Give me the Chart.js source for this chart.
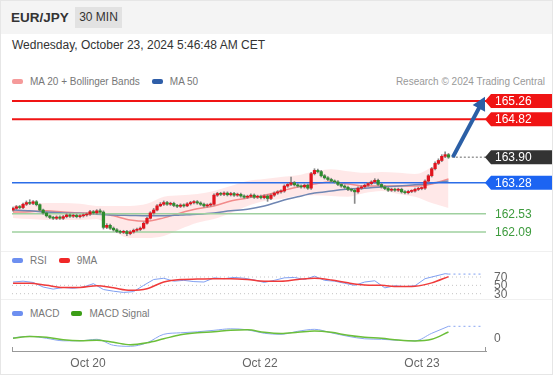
<!DOCTYPE html>
<html>
<head>
<meta charset="utf-8">
<script src="https://cdn.jsdelivr.net/npm/chart.js@4.4.1/dist/chart.umd.min.js"></script>
<style>
  body { margin: 0; background: #fff; font-family: "Liberation Sans", Arial, sans-serif; }
  #wrap { position: relative; width: 551px; height: 373px; border: 1px solid #e6e6e6; overflow: hidden; }
  #head { position: absolute; left: 0; top: 0; width: 551px; height: 33px; background: #f4f4f4; }
  #pair { position: absolute; left: 10px; top: 9px; font-size: 13.5px; font-weight: bold; color: #333; }
  #tf { position: absolute; left: 74px; top: 6px; width: 47px; height: 21px; line-height: 21px; text-align: center; background: #e2e2e2; font-size: 12px; color: #333; }
  #date { position: absolute; left: 11px; top: 37px; font-size: 12px; color: #333; }
  .leg { position: absolute; font-size: 10px; line-height: 12px; color: #777; white-space: nowrap; }
  .pill { display: inline-block; width: 11px; height: 5px; border-radius: 2px; vertical-align: middle; margin-right: 7px; position: relative; top: -1px; }
  .gap { display: inline-block; width: 12px; }
  .sep { position: absolute; left: 0; width: 551px; height: 1px; background: #f0f0f0; }
  canvas { position: absolute; left: 0; }
</style>
</head>
<body>
<div id="wrap">
  <div id="head"></div>
  <div id="pair">EUR/JPY</div>
  <div id="tf">30 MIN</div>
  <div id="date">Wednesday, October 23, 2024 5:46:48 AM CET</div>
  <div class="leg" style="left:11px;top:75px"><span class="pill" style="background:#f59a9a"></span>MA 20 + Bollinger Bands<span class="gap"></span><span class="pill" style="background:#2f5ea8"></span>MA 50</div>
  <div class="leg" style="right:7px;top:75px;color:#999">Research © 2024 Trading Central</div>
  <canvas id="main" width="553" height="165" style="top:85px"></canvas>
  <div class="sep" style="top:250px"></div>
  <div class="leg" style="left:11px;top:254px"><span class="pill" style="background:#6d8ff0"></span>RSI<span class="gap"></span><span class="pill" style="background:#f02828"></span>9MA</div>
  <canvas id="rsi" width="553" height="30" style="top:268px"></canvas>
  <div class="sep" style="top:298px"></div>
  <div class="leg" style="left:11px;top:307px"><span class="pill" style="background:#6d8ff0"></span>MACD<span class="gap"></span><span class="pill" style="background:#3c9e16"></span>MACD Signal</div>
  <canvas id="macd" width="553" height="58" style="top:316px"></canvas>
</div>
<script>
// 30 min candles, index 0 = first bar on the left
const opens = [
  162.62, 162.66, 162.70, 162.68, 162.76, 162.80, 162.78, 162.82, 162.75, 162.62,
  162.55, 162.48, 162.44, 162.42, 162.45, 162.42, 162.46, 162.50, 162.47, 162.49,
  162.46, 162.48, 162.50, 162.52, 162.58, 162.55, 162.60, 162.57, 162.20, 162.25,
  162.18, 162.14, 162.10, 162.08, 162.10, 162.05, 162.09, 162.13, 162.15, 162.18,
  162.30, 162.42, 162.55, 162.62, 162.72, 162.76, 162.80, 162.76, 162.78, 162.73,
  162.71, 162.74, 162.72, 162.77, 162.80, 162.82, 162.79, 162.76, 162.72, 162.74,
  162.76, 162.98, 163.02, 163.00, 163.03, 162.99, 163.02, 162.98, 163.00, 162.96,
  162.93, 162.95, 162.98, 162.93, 162.95, 162.92, 162.96, 162.90, 162.98, 163.03,
  163.06, 163.08, 163.20, 163.24, 163.28, 163.23, 163.20, 163.18, 163.22, 163.15,
  163.50, 163.58, 163.55, 163.45, 163.40, 163.36, 163.32, 163.30, 163.24, 163.20,
  163.17, 163.12, 163.10, 163.06, 163.15, 163.18, 163.22, 163.26, 163.30, 163.34,
  163.24, 163.18, 163.14, 163.10, 163.12, 163.10, 163.12, 163.06, 163.04, 163.07,
  163.08, 163.12, 163.14, 163.15, 163.32, 163.45, 163.62, 163.75, 163.82, 163.92,
  163.96
];
const highs = [
  162.69, 162.73, 162.73, 162.79, 162.84, 162.87, 162.85, 162.85, 162.77, 162.64,
  162.57, 162.50, 162.47, 162.48, 162.48, 162.49, 162.53, 162.53, 162.52, 162.52,
  162.51, 162.53, 162.55, 162.61, 162.61, 162.63, 162.64, 162.60, 162.29, 162.28,
  162.21, 162.17, 162.13, 162.13, 162.13, 162.12, 162.16, 162.18, 162.21, 162.33,
  162.45, 162.58, 162.66, 162.75, 162.80, 162.84, 162.83, 162.81, 162.81, 162.76,
  162.77, 162.77, 162.80, 162.83, 162.85, 162.85, 162.82, 162.79, 162.77, 162.79,
  163.01, 163.05, 163.05, 163.06, 163.06, 163.05, 163.05, 163.03, 163.03, 162.99,
  162.98, 163.01, 163.01, 162.98, 162.98, 162.99, 162.99, 163.01, 163.06, 163.09,
  163.11, 163.23, 163.27, 163.42, 163.31, 163.26, 163.23, 163.25, 163.25, 163.53,
  163.62, 163.61, 163.58, 163.48, 163.43, 163.39, 163.35, 163.33, 163.27, 163.23,
  163.20, 163.15, 163.13, 163.18, 163.21, 163.25, 163.29, 163.33, 163.38, 163.37,
  163.27, 163.21, 163.17, 163.15, 163.15, 163.15, 163.15, 163.09, 163.10, 163.11,
  163.15, 163.17, 163.18, 163.35, 163.48, 163.65, 163.79, 163.86, 163.96, 164.03,
  163.99
];
const lows = [
  162.59, 162.63, 162.65, 162.65, 162.73, 162.75, 162.75, 162.72, 162.59, 162.52,
  162.45, 162.41, 162.39, 162.39, 162.39, 162.39, 162.43, 162.44, 162.44, 162.43,
  162.43, 162.45, 162.47, 162.49, 162.52, 162.52, 162.54, 162.16, 162.17, 162.15,
  162.11, 162.07, 162.05, 162.05, 162.00, 162.02, 162.06, 162.10, 162.12, 162.16,
  162.28, 162.40, 162.52, 162.60, 162.70, 162.73, 162.73, 162.73, 162.70, 162.68,
  162.68, 162.69, 162.70, 162.74, 162.77, 162.76, 162.73, 162.69, 162.69, 162.71,
  162.74, 162.95, 162.97, 162.97, 162.96, 162.96, 162.95, 162.95, 162.93, 162.90,
  162.90, 162.92, 162.90, 162.90, 162.89, 162.89, 162.83, 162.87, 162.95, 163.00,
  163.03, 163.05, 163.17, 163.21, 163.20, 163.17, 163.15, 163.15, 163.12, 163.12,
  163.47, 163.52, 163.42, 163.37, 163.33, 163.29, 163.27, 163.21, 163.17, 163.14,
  163.09, 163.07, 162.78, 163.03, 163.12, 163.15, 163.19, 163.23, 163.27, 163.21,
  163.15, 163.11, 163.07, 163.07, 163.07, 163.07, 163.03, 163.01, 163.01, 163.04,
  163.05, 163.09, 163.11, 163.12, 163.29, 163.42, 163.59, 163.72, 163.79, 163.89,
  163.87
];
const closes = [
  162.66, 162.70, 162.68, 162.76, 162.80, 162.78, 162.82, 162.75, 162.62, 162.55,
  162.48, 162.44, 162.42, 162.45, 162.42, 162.46, 162.50, 162.47, 162.49, 162.46,
  162.48, 162.50, 162.52, 162.58, 162.55, 162.60, 162.57, 162.20, 162.25, 162.18,
  162.14, 162.10, 162.08, 162.10, 162.05, 162.09, 162.13, 162.15, 162.18, 162.30,
  162.42, 162.55, 162.62, 162.72, 162.76, 162.80, 162.76, 162.78, 162.73, 162.71,
  162.74, 162.72, 162.77, 162.80, 162.82, 162.79, 162.76, 162.72, 162.74, 162.76,
  162.98, 163.02, 163.00, 163.03, 162.99, 163.02, 162.98, 163.00, 162.96, 162.93,
  162.95, 162.98, 162.93, 162.95, 162.92, 162.96, 162.90, 162.98, 163.03, 163.06,
  163.08, 163.20, 163.24, 163.28, 163.23, 163.20, 163.18, 163.22, 163.15, 163.50,
  163.58, 163.55, 163.45, 163.40, 163.36, 163.32, 163.30, 163.24, 163.20, 163.17,
  163.12, 163.10, 163.06, 163.15, 163.18, 163.22, 163.26, 163.30, 163.34, 163.24,
  163.18, 163.14, 163.10, 163.12, 163.10, 163.12, 163.06, 163.04, 163.07, 163.08,
  163.12, 163.14, 163.15, 163.32, 163.45, 163.62, 163.75, 163.82, 163.92, 163.96,
  163.90
];

// indicator lines, read every 5 bars
const lineIdx = [0, 5, 10, 15, 20, 25, 30, 35, 40, 45, 50, 55, 60, 65, 70, 75, 80, 85, 90, 95, 100, 105, 110, 115, 120, 125, 130];
const ma20 = [162.57, 162.58, 162.60, 162.57, 162.55, 162.55, 162.48, 162.38, 162.35, 162.43, 162.55, 162.65, 162.72, 162.84, 162.91, 162.98, 163.08, 163.18, 163.25, 163.30, 163.25, 163.20, 163.20, 163.20, 163.20, 163.25, 163.37];
const bbUpper = [162.72, 162.77, 162.79, 162.79, 162.77, 162.72, 162.72, 162.72, 162.77, 162.94, 162.98, 163.01, 163.08, 163.20, 163.32, 163.37, 163.42, 163.46, 163.56, 163.61, 163.56, 163.52, 163.54, 163.52, 163.49, 163.66, 164.00];
const bbLower = [162.43, 162.40, 162.38, 162.38, 162.38, 162.40, 162.11, 161.94, 161.94, 161.99, 162.16, 162.31, 162.40, 162.55, 162.72, 162.84, 162.89, 162.96, 162.98, 162.96, 162.94, 163.03, 163.08, 163.01, 162.94, 162.79, 162.67];
const ma50 = [162.62, 162.60, 162.57, 162.55, 162.54, 162.52, 162.50, 162.49, 162.48, 162.48, 162.50, 162.52, 162.55, 162.60, 162.64, 162.72, 162.84, 162.94, 163.03, 163.08, 163.13, 163.15, 163.18, 163.20, 163.23, 163.27, 163.32];
const rsiMa = [55, 55, 50, 45, 45, 49, 44, 38, 42, 58, 64, 65, 66, 66, 64, 60, 60, 64, 67, 63, 56, 51, 50, 47, 48, 56, 71];
const macd = [0.005, 0.02, 0.0, -0.025, -0.025, -0.01, -0.07, -0.08, -0.045, 0.04, 0.055, 0.065, 0.08, 0.095, 0.085, 0.05, 0.04, 0.07, 0.09, 0.055, 0.02, -0.005, -0.01, -0.02, -0.025, 0.05, 0.12];
const macdSignal = [0.0, 0.018, 0.01, -0.015, -0.025, -0.02, -0.04, -0.065, -0.045, -0.005, 0.035, 0.055, 0.065, 0.08, 0.085, 0.06, 0.048, 0.06, 0.073, 0.06, 0.03, 0.01, 0.0, -0.018, -0.027, -0.01, 0.063];

// rsi, read every 3 bars
const rsiIdx = [0, 3, 6, 9, 12, 15, 18, 21, 24, 27, 30, 33, 36, 39, 42, 45, 48, 51, 54, 57, 60, 63, 66, 69, 72, 75, 78, 81, 84, 87, 90, 93, 96, 99, 102, 105, 108, 111, 114, 117, 120, 123, 126, 129, 130];
const rsi = [58, 60, 57, 46, 41, 45, 43, 46, 54, 40, 36, 33, 35, 50, 64, 67, 60, 62, 59, 58, 68, 66, 69, 67, 63, 57, 62, 68, 69, 64, 72, 62, 60, 55, 50, 58, 61, 44, 49, 47, 49, 66, 72, 78, 77];
const rsiLevels = [30, 50, 70];

// key levels
const resistances = [165.26, 164.82];
const lastPrice = 163.90;
const pivot = 163.28;
const supports = [162.53, 162.09];
const target = 165.36;

const xTickPos = [22.4, 73.7, 122.1];
const xTickLabels = ['Oct 20', 'Oct 22', 'Oct 23'];

const X_MIN = -0.3, X_MAX = 141.2, X_END = 140;
const red = '#f01414';
const upCol = '#e0141e';
const downCol = '#2e8b2e';

Chart.defaults.font.family = '"Liberation Sans", Arial, sans-serif';
Chart.defaults.animation = false;
Chart.defaults.events = [];
Chart.defaults.plugins.legend.display = false;
Chart.defaults.plugins.tooltip.enabled = false;

const pts = (xs, ys) => xs.map((x, i) => ({ x: x, y: ys[i] }));
const hline = (y, x0, x1) => [{ x: x0, y: y }, { x: x1, y: y }];
const flatLine = (data, color, width, dash, order) => ({
	type: 'line', data: data, borderColor: color, borderWidth: width, borderDash: dash || [],
	pointRadius: 0, fill: false, order: order
});
const smooth = (data, color, width, order) => ({
	type: 'line', data: data, borderColor: color, borderWidth: width,
	pointRadius: 0, fill: false, cubicInterpolationMode: 'monotone', order: order
});
const hiddenX = { type: 'linear', min: X_MIN, max: X_MAX, offset: false, display: false };

function drawTag(ctx, y, text, bg) {
	ctx.beginPath();
	ctx.moveTo(484, y);
	ctx.lineTo(490, y - 7);
	ctx.lineTo(553, y - 7);
	ctx.lineTo(553, y + 7);
	ctx.lineTo(490, y + 7);
	ctx.closePath();
	ctx.fillStyle = bg;
	ctx.fill();
	ctx.fillStyle = '#fff';
	ctx.fillText(text, 494, y + 0.5);
}

const levelTags = {
	id: 'levelTags',
	afterDraw(chart) {
		const { ctx, scales: { x, y } } = chart;
		ctx.save();
		// forecast arrow
		const x0 = x.getPixelForValue(131.3), y0 = y.getPixelForValue(lastPrice);
		const x1 = x.getPixelForValue(140.9), y1 = y.getPixelForValue(target);
		const ang = Math.atan2(y1 - y0, x1 - x0);
		ctx.strokeStyle = '#2b5fa6';
		ctx.fillStyle = '#2b5fa6';
		ctx.lineWidth = 4;
		ctx.beginPath();
		ctx.moveTo(x0, y0);
		ctx.lineTo(x1 - 9 * Math.cos(ang), y1 - 9 * Math.sin(ang));
		ctx.stroke();
		ctx.beginPath();
		ctx.moveTo(x1, y1);
		ctx.lineTo(x1 - 13 * Math.cos(ang) + 7 * Math.sin(ang), y1 - 13 * Math.sin(ang) - 7 * Math.cos(ang));
		ctx.lineTo(x1 - 13 * Math.cos(ang) - 7 * Math.sin(ang), y1 - 13 * Math.sin(ang) + 7 * Math.cos(ang));
		ctx.closePath();
		ctx.fill();

		ctx.font = '12px "Liberation Sans", Arial, sans-serif';
		ctx.textBaseline = 'middle';
		ctx.textAlign = 'left';
		resistances.forEach(v => drawTag(ctx, y.getPixelForValue(v), v.toFixed(2), red));
		drawTag(ctx, y.getPixelForValue(lastPrice), lastPrice.toFixed(2), '#333');
		drawTag(ctx, y.getPixelForValue(pivot), pivot.toFixed(2), '#1c64f2');
		ctx.fillStyle = '#3d9b3d';
		supports.forEach(v => ctx.fillText(v.toFixed(2), 494, y.getPixelForValue(v) + 0.5));
		ctx.restore();
	}
};

new Chart(document.getElementById('main'), {
	type: 'bar',
	data: {
		datasets: [
			{
				type: 'bar',
				data: closes.map((c, i) => ({ x: i, y: [opens[i], c] })),
				backgroundColor: closes.map((c, i) => (c >= opens[i] ? upCol : downCol)),
				barThickness: 2.6,
				minBarLength: 1,
				grouped: false,
				order: 1
			},
			{
				type: 'bar',
				data: closes.map((c, i) => ({ x: i, y: [lows[i], highs[i]] })),
				backgroundColor: '#888',
				barThickness: 1,
				grouped: false,
				order: 2
			},
			flatLine(hline(pivot, X_MIN, X_MAX), '#2b6de8', 1.5, null, 3),
			flatLine(hline(lastPrice, 131, X_MAX), '#666', 1, [2, 2], 3),
			...resistances.map(v => flatLine(hline(v, X_MIN, X_MAX), red, 2, null, 3)),
			...supports.map(v => flatLine(hline(v, X_MIN, X_MAX), '#9fd09f', 1.5, null, 3)),
			smooth(pts(lineIdx, ma50), '#6f86b3', 1.5, 4),
			smooth(pts(lineIdx, ma20), '#f28b8b', 1.5, 4),
			{
				type: 'line', data: pts(lineIdx, bbUpper), borderWidth: 0, pointRadius: 0,
				cubicInterpolationMode: 'monotone', fill: '+1',
				backgroundColor: 'rgba(255, 140, 140, 0.2)', order: 6
			},
			{
				type: 'line', data: pts(lineIdx, bbLower), borderWidth: 0, pointRadius: 0,
				cubicInterpolationMode: 'monotone', fill: false, order: 6
			}
		]
	},
	options: {
		responsive: false,
		layout: { padding: { left: 11, right: 68, top: 0, bottom: 0 } },
		scales: {
			x: hiddenX,
			y: { type: 'linear', min: 161.628, max: 165.623, display: false }
		}
	},
	plugins: [levelTags]
});

const sideLabels = (values, fmt) => ({
	id: 'sideLabels',
	afterDraw(chart) {
		const { ctx, scales: { y } } = chart;
		ctx.save();
		ctx.font = '12px "Liberation Sans", Arial, sans-serif';
		ctx.fillStyle = '#666';
		ctx.textBaseline = 'middle';
		values.forEach(v => ctx.fillText(fmt(v), 493, y.getPixelForValue(v) + 0.5));
		ctx.restore();
	}
});

new Chart(document.getElementById('rsi'), {
	type: 'line',
	data: {
		datasets: [
			...rsiLevels.map(v => flatLine(hline(v, X_MIN, X_END), '#c4c4c4', 1, [1, 3], 3)),
			flatLine(pts(rsiIdx, rsi), '#7f9ff2', 1, null, 2),
			flatLine(hline(rsi[rsi.length - 1], 130, X_END), '#7f9ff2', 1, [2, 3], 2),
			smooth(pts(lineIdx, rsiMa), '#f03a3a', 1.5, 1)
		]
	},
	options: {
		responsive: false,
		layout: { padding: { left: 11, right: 68, top: 0, bottom: 0 } },
		scales: {
			x: hiddenX,
			y: { type: 'linear', min: 17.3, max: 89.2, display: false }
		}
	},
	plugins: [sideLabels(rsiLevels, v => String(v))]
});

const axisEnds = {
	id: 'axisEnds',
	afterDraw(chart) {
		const { ctx, chartArea: a } = chart;
		ctx.save();
		ctx.strokeStyle = '#999';
		ctx.lineWidth = 1;
		ctx.beginPath();
		ctx.moveTo(a.left + 0.5, a.bottom - 4);
		ctx.lineTo(a.left + 0.5, a.bottom);
		ctx.moveTo(a.right - 0.5, a.bottom - 4);
		ctx.lineTo(a.right - 0.5, a.bottom);
		ctx.stroke();
		ctx.restore();
	}
};

new Chart(document.getElementById('macd'), {
	type: 'line',
	data: {
		datasets: [
			smooth(pts(lineIdx, macd), '#8aa6f2', 1, 2),
			flatLine(hline(macd[macd.length - 1], 130, X_END), '#8aa6f2', 1, [2, 3], 2),
			smooth(pts(lineIdx, macdSignal), '#6cbf3a', 1.5, 1)
		]
	},
	options: {
		responsive: false,
		layout: { padding: { left: 11, right: 68, top: 0, bottom: 0 } },
		scales: {
			x: {
				type: 'linear', min: X_MIN, max: X_MAX, offset: false,
				grid: { display: false, drawTicks: false },
				border: { display: true, color: '#999', width: 1 },
				afterBuildTicks: s => { s.ticks = xTickPos.map(v => ({ value: v })); },
				afterFit: s => { s.height = 24; },
				ticks: {
					autoSkip: false, maxRotation: 0, padding: 5,
					color: '#666', font: { size: 12 },
					callback: (v, i) => xTickLabels[i]
				}
			},
			y: { type: 'linear', min: -0.127, max: 0.213, display: false }
		}
	},
	plugins: [sideLabels([0], v => String(v)), axisEnds]
});
</script>
</body>
</html>
